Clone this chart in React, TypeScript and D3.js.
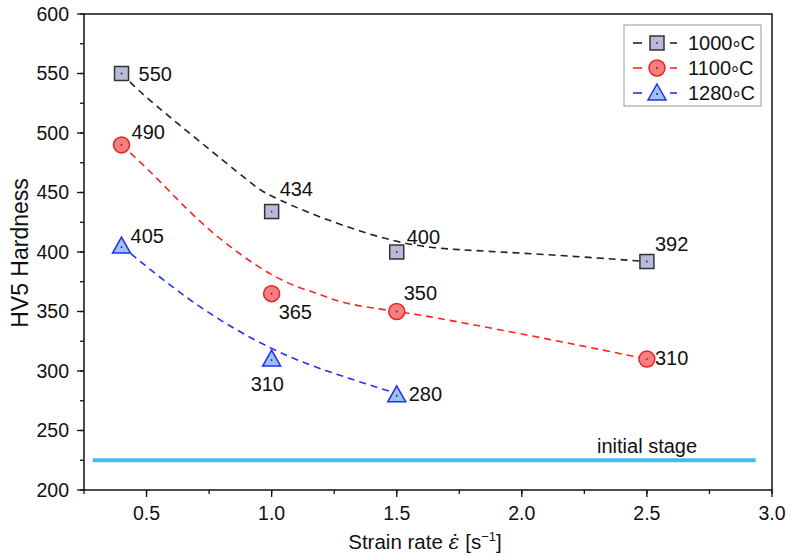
import React from "react";
import * as d3 from "d3";

// Measured points
const rates = [0.4, 1.0, 1.5, 2.5];
const hv1000 = [550, 434, 400, 392];
const hv1100 = [490, 365, 350, 310];
const rates1280 = [0.4, 1.0, 1.5];
const hv1280 = [405, 310, 280];

// Fitted trend curves
const fit1000X = [0.4, 0.5, 0.7, 0.9, 1.0, 1.2, 1.5, 1.75, 2.0, 2.3, 2.5];
const fit1000Y = [550, 530, 495, 461, 447, 429, 409, 402, 399, 395, 392];
const fit1100X = [0.4, 0.55, 0.75, 1.0, 1.17, 1.3, 1.5, 1.7, 2.1, 2.5];
const fit1100Y = [490, 460, 419, 381, 366, 357, 350, 343, 327, 310];
const fit1280X = [0.4, 0.7, 1.0, 1.25, 1.5];
const fit1280Y = [405, 356, 319, 298, 281];

const initialStage = 225;
const initialRange = [0.285, 2.935];

const xTicks = [0.5, 1.0, 1.5, 2.0, 2.5, 3.0];
const yTicks = [200, 250, 300, 350, 400, 450, 500, 550, 600];
const seriesTemps = ["1000", "1100", "1280"];

const FONT = "'Liberation Sans', Arial, sans-serif";

export default function App() {
  const W = 791, H = 557;
  const x = d3.scaleLinear().domain([0.25, 3.0]).range([84, 772]);
  const y = d3.scaleLinear().domain([200, 600]).range([490, 14]);
  const line = d3
    .line<[number, number]>()
    .x((d) => x(d[0]))
    .y((d) => y(d[1]))
    .curve(d3.curveNatural);

  const colors = ["#222222", "#ff2222", "#2233ee"];
  const fills = ["#b9b9d9", "#f47f82", "#9fc2f6"];
  const strokes = ["#333333", "#ee2020", "#2030ee"];

  const fits = [
    { xs: fit1000X, ys: fit1000Y },
    { xs: fit1100X, ys: fit1100Y },
    { xs: fit1280X, ys: fit1280Y },
  ];
  const pts = [
    { xs: rates, ys: hv1000 },
    { xs: rates, ys: hv1100 },
    { xs: rates1280, ys: hv1280 },
  ];

  // label offsets (dx, dy) from point
  const labelOff: [number, number][][] = [
    [[17, 7], [8, -16], [10, -8], [8, -11]],
    [[10, -6], [7, 25], [7, -12], [8, 6]],
    [[9, -3], [-21, 32], [12, 6]],
  ];

  const marker = (k: number, cx: number, cy: number, key: string) => {
    if (k === 0)
      return (
        <g key={key}>
          <rect x={cx - 7} y={cy - 7} width={14} height={14} fill={fills[0]} stroke={strokes[0]} strokeWidth={1.5} />
          <circle cx={cx} cy={cy} r={0.9} fill="#333" />
        </g>
      );
    if (k === 1)
      return (
        <g key={key}>
          <circle cx={cx} cy={cy} r={8} fill={fills[1]} stroke={strokes[1]} strokeWidth={1.5} />
          <circle cx={cx} cy={cy} r={0.9} fill="#b00" />
        </g>
      );
    return (
      <g key={key}>
        <path
          d={`M${cx},${cy - 9}L${cx + 9},${cy + 7}L${cx - 9},${cy + 7}Z`}
          fill={fills[2]}
          stroke={strokes[2]}
          strokeWidth={1.5}
        />
        <circle cx={cx} cy={cy + 1} r={0.9} fill="#115" />
      </g>
    );
  };

  const minorX = d3.range(0.25, 3.0001, 0.25);
  const minorY = d3.range(200, 600.001, 25);

  return (
    <svg width={W} height={H} style={{ position: "absolute", left: 0, top: 0, background: "#fff" }} fontFamily={FONT}>
      {/* initial stage */}
      <line
        x1={x(initialRange[0])}
        x2={x(initialRange[1])}
        y1={y(initialStage)}
        y2={y(initialStage)}
        stroke="#4bb8ee"
        strokeWidth={4}
      />
      <text x={597} y={453} fontSize={20} fill="#111">initial stage</text>

      {/* fit curves */}
      {fits.map((f, k) => (
        <path
          key={"f" + k}
          d={line(f.xs.map((v, i) => [v, f.ys[i]] as [number, number])) || ""}
          fill="none"
          stroke={colors[k]}
          strokeWidth={1.6}
          strokeDasharray="7,5"
        />
      ))}

      {/* points */}
      {pts.map((p, k) => p.xs.map((v, i) => marker(k, x(v), y(p.ys[i]), `m${k}-${i}`)))}

      {/* point labels */}
      {pts.map((p, k) =>
        p.xs.map((v, i) => (
          <text
            key={`l${k}-${i}`}
            x={x(v) + labelOff[k][i][0]}
            y={y(p.ys[i]) + labelOff[k][i][1]}
            fontSize={20}
            fill="#111"
          >
            {p.ys[i]}
          </text>
        ))
      )}

      {/* frame */}
      <rect x={84} y={14} width={688} height={476} fill="none" stroke="#111" strokeWidth={1.5} />

      {/* x ticks */}
      {minorX.map((t) => (
        <line key={"mx" + t} x1={x(t)} x2={x(t)} y1={490} y2={494} stroke="#111" strokeWidth={1.3} />
      ))}
      {xTicks.map((t) => (
        <g key={"x" + t}>
          <line x1={x(t)} x2={x(t)} y1={490} y2={497} stroke="#111" strokeWidth={1.3} />
          <text x={x(t)} y={520} textAnchor="middle" fontSize={19.5} fill="#111">
            {t.toFixed(1)}
          </text>
        </g>
      ))}
      {/* y ticks */}
      {minorY.map((t) => (
        <line key={"my" + t} x1={80} x2={84} y1={y(t)} y2={y(t)} stroke="#111" strokeWidth={1.3} />
      ))}
      {yTicks.map((t) => (
        <g key={"y" + t}>
          <line x1={77} x2={84} y1={y(t)} y2={y(t)} stroke="#111" strokeWidth={1.3} />
          <text x={69} y={y(t) + 6.5} textAnchor="end" fontSize={19.5} fill="#111">
            {t}
          </text>
        </g>
      ))}

      {/* axis titles */}
      <text transform="translate(28,253) rotate(-90)" textAnchor="middle" fontSize={23} fill="#111">
        HV5 Hardness
      </text>
      <text x={425} y={549} textAnchor="middle" fontSize={20.5} fill="#111">
        Strain rate <tspan fontStyle="italic" fontFamily="'DejaVu Serif', serif">ε̇</tspan> [s
        <tspan dy={-8} fontSize={13}>−1</tspan>
        <tspan dy={8}>]</tspan>
      </text>

      {/* legend */}
      <rect x={624} y={25} width={137} height={81} fill="#fff" stroke="#999" strokeWidth={1} />
      {seriesTemps.map((n, k) => {
        const cy = 43 + k * 25;
        return (
          <g key={"lg" + k}>
            <line x1={633} x2={642} y1={cy} y2={cy} stroke={colors[k]} strokeWidth={1.6} />
            <line x1={670} x2={677} y1={cy} y2={cy} stroke={colors[k]} strokeWidth={1.6} />
            {marker(k, 657, cy, "lgm" + k)}
            <text x={688} y={cy + 7} fontSize={20} fill="#111">
              {n}
              <tspan dy={6} fontSize={20}>°</tspan>
              <tspan dy={-6}>C</tspan>
            </text>
          </g>
        );
      })}
    </svg>
  );
}
